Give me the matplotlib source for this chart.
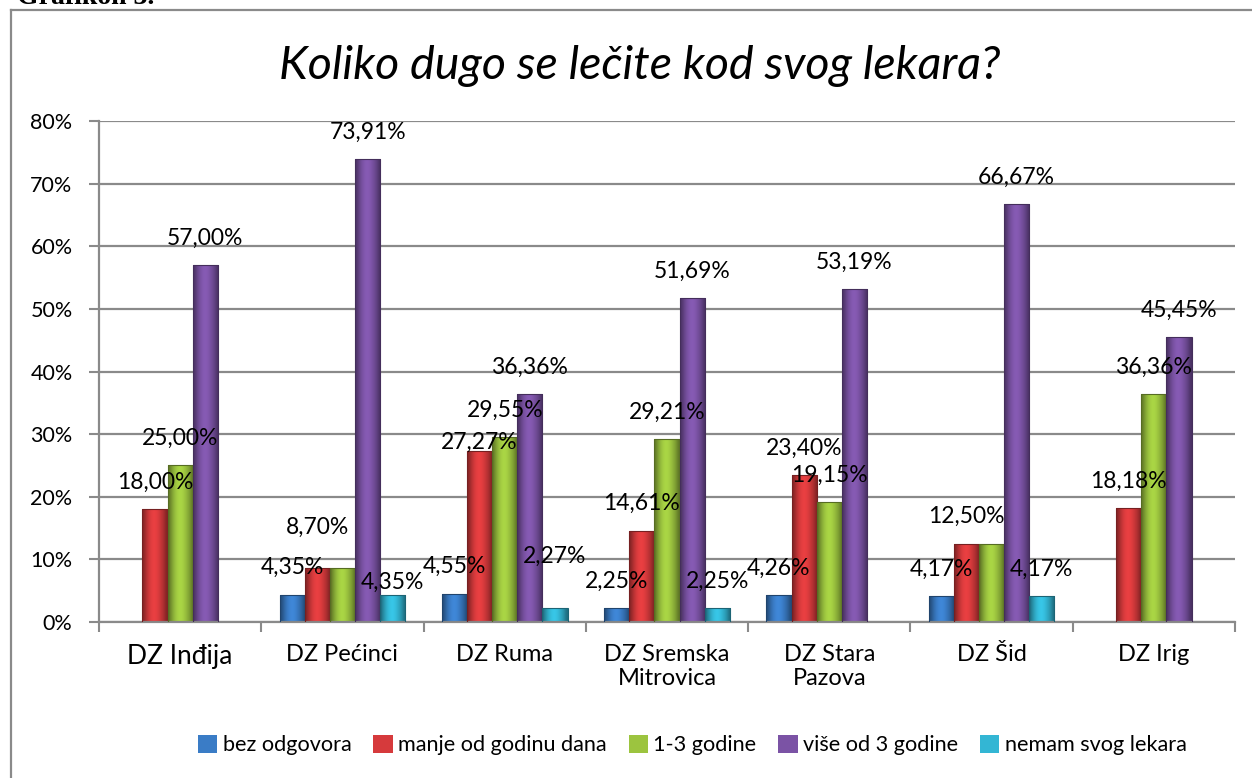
import numpy as np
import matplotlib
matplotlib.use("Agg")
import matplotlib.pyplot as plt
from matplotlib.colors import to_rgb
from matplotlib.lines import Line2D

plt.rcParams["font.family"] = ["Lato", "DejaVu Sans"]

categories = ["DZ Inđija", "DZ Pećinci", "DZ Ruma", "DZ Sremska\nMitrovica",
              "DZ Stara\nPazova", "DZ Šid", "DZ Irig"]
series = ["bez odgovora", "manje od godinu dana", "1-3 godine",
          "više od 3 godine", "nemam svog lekara"]
bez_odgovora = [0, 4.35, 4.55, 2.25, 4.26, 4.17, 0]
manje_od_godine = [18.00, 8.70, 27.27, 14.61, 23.40, 12.50, 18.18]
od_1_do_3 = [25.00, 8.70, 29.55, 29.21, 19.15, 12.50, 36.36]
vise_od_3 = [57.00, 73.91, 36.36, 51.69, 53.19, 66.67, 45.45]
nemam_lekara = [0, 4.35, 2.27, 2.25, 0, 4.17, 0]
values = [bez_odgovora, manje_od_godine, od_1_do_3, vise_od_3, nemam_lekara]

colors = ["#3a7cc6", "#d63a3c", "#9cc43f", "#7b53a5", "#33b6d4"]

# label placement (pixels above the bar top); labels that Excel hid
label_offset = {(1, 1): 40, (4, 1): 12, (1, 2): 9, (4, 2): 51}
hidden = {(2, 1), (2, 5)}

W, H = 1252, 778
fig = plt.figure(figsize=(W / 100, H / 100), dpi=100)
ax = fig.add_axes([99 / W, 1 - 622 / H, (1235 - 99) / W, (622 - 121) / H])

x = np.arange(len(categories))
bw = 0.155


def shade(c, f):
    r = np.array(to_rgb(c)) * f
    return np.clip(r, 0, 1)


prof = np.array([0.62, 0.8, 0.95, 1.05, 1.1, 1.08, 1.0, 0.9, 0.78, 0.6])
handles = []
for i, (name, vals, col) in enumerate(zip(series, values, colors)):
    bars = ax.bar(x + (i - 2) * bw, vals, bw, color=col, edgecolor="none",
                  label=name, zorder=2)
    handles.append(bars)
    grad = np.array([[shade(col, f) for f in prof]])
    for rect, v in zip(bars, vals):
        if v <= 0:
            continue
        x0 = rect.get_x()
        im = ax.imshow(grad, extent=(x0, x0 + rect.get_width(), 0, v),
                       aspect="auto", interpolation="bicubic", zorder=2.5)
        im.set_clip_path(rect)
        ax.add_patch(plt.Rectangle((x0, 0), rect.get_width(), v, fill=False,
                                   edgecolor=shade(col, 0.55), lw=0.8, zorder=3))

for i, vals in enumerate(values):
    for j, v in enumerate(vals):
        if v <= 0 or (i, j) in hidden:
            continue
        off = label_offset.get((i, j), 27)
        ax.annotate(f"{v:.2f}".replace(".", ",") + "%",
                    (x[j] + (i - 2) * bw, v), xytext=(0, off * 0.72),
                    textcoords="offset points", ha="center", va="center",
                    fontsize=16.5, color="black", zorder=5)

ax.set_xlim(-0.5, len(categories) - 0.5)
ax.set_ylim(0, 80)
ax.set_yticks(np.arange(0, 81, 10))
ax.set_yticklabels([f"{t}%" for t in range(0, 81, 10)], fontsize=15.5)
ax.yaxis.grid(True, color="#8a8a8a", lw=1.6, zorder=0)
ax.set_axisbelow(True)
ax.tick_params(axis="y", length=7, width=1.5, color="#8a8a8a", pad=12)

ax.set_xticks(x)
ax.set_xticklabels(categories, fontsize=17, linespacing=1.15)
ax.get_xticklabels()[0].set_fontsize(19)
ax.tick_params(axis="x", length=0, pad=16)
ax.set_xticks(np.arange(-0.5, len(categories)), minor=True)
ax.tick_params(axis="x", which="minor", length=7, width=1.5, color="#8a8a8a")

for s in ["top", "right"]:
    ax.spines[s].set_visible(False)
for s in ["left", "bottom"]:
    ax.spines[s].set_color("#8a8a8a")
    ax.spines[s].set_linewidth(1.6)

fig.text(0.511, 1 - 66 / H, "Koliko dugo se lečite kod svog lekara?",
         ha="center", va="center", fontsize=33.5, style="italic")

fig.legend(handles=handles, labels=series, loc="center", ncol=5,
           bbox_to_anchor=(0.553, 1 - 745 / H), frameon=False, fontsize=15.6,
           handlelength=0.9, handleheight=0.9, handletextpad=0.25,
           columnspacing=1.0, borderaxespad=0)

# outer chart frame and the cut-off caption above it
fig.add_artist(Line2D([11 / W, 11 / W], [0, 1 - 10 / H], color="#8a8a8a", lw=1.6))
fig.add_artist(Line2D([11 / W, 1], [1 - 10 / H, 1 - 10 / H], color="#8a8a8a", lw=1.6))
fig.text(17 / W, 1 - 4 / H, "Grafikon 3.", family="Liberation Serif",
         fontweight="bold", fontsize=20, va="baseline", ha="left")

fig.savefig("out.png", dpi=100)
